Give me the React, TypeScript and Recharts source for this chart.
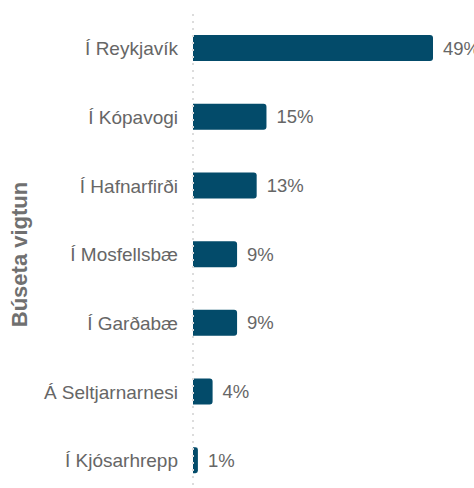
import React from 'react';
import { BarChart, Bar, XAxis, YAxis, LabelList } from 'recharts';

const categories = ['Í Reykjavík', 'Í Kópavogi', 'Í Hafnarfirði', 'Í Mosfellsbæ', 'Í Garðabæ', 'Á Seltjarnarnesi', 'Í Kjósarhrepp'];
const values = [49, 15, 13, 9, 9, 4, 1];
const axisTitle = 'Búseta vigtun';

const data = categories.map((name, i) => ({ name, value: values[i] }));

export default function App() {
  return (
    <div style={{ position: 'fixed', left: 0, top: 0, width: 474, height: 488, overflow: 'hidden', background: '#fff' }}>
      <BarChart
        width={482}
        height={500}
        data={data}
        layout="vertical"
        margin={{ top: 14, right: 49, bottom: 5, left: 0 }}
        style={{ fontFamily: '"Liberation Sans", Arial, sans-serif' }}
      >
        <XAxis type="number" hide domain={[0, 49]} />
        <YAxis
          type="category"
          dataKey="name"
          width={193}
          tickLine={false}
          tickSize={0}
          tickMargin={15}
          axisLine={{ stroke: '#dcdcdc', strokeWidth: 2, strokeDasharray: '2 5' }}
          tick={{ fill: '#666', fontSize: 19 }}
          label={{
            value: axisTitle,
            angle: -90,
            position: 'insideLeft',
            offset: 19,
            style: { textAnchor: 'middle', fill: '#707070', fontSize: 22, fontWeight: 'bold' },
          }}
        />
        <Bar dataKey="value" fill="#034b6a" barSize={26} radius={[0, 3, 3, 0]} isAnimationActive={false}>
          <LabelList
            dataKey="value"
            position="right"
            offset={10}
            formatter={(v: number) => `${v}%`}
            style={{ fill: '#666', fontSize: 18.5 }}
          />
        </Bar>
      </BarChart>
    </div>
  );
}
